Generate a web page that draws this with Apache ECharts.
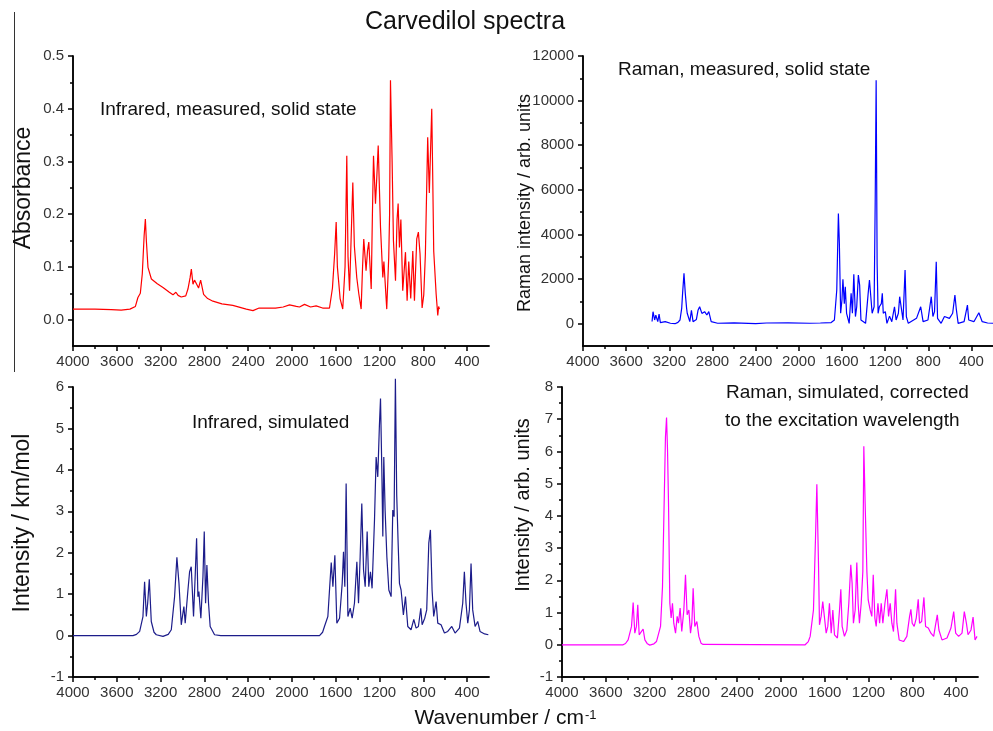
<!DOCTYPE html>
<html>
<head>
<meta charset="utf-8">
<title>Carvedilol spectra</title>
<script src="https://cdn.jsdelivr.net/npm/echarts@6/dist/echarts.min.js"></script>
<style>
  html, body { margin: 0; padding: 0; background: #fff; }
  #chart { width: 993px; height: 731px; }
</style>
</head>
<body>
<div id="chart"></div>
<script>
// tick values (wavenumber axis runs 4000 -> 200)
var xMajor = [400, 800, 1200, 1600, 2000, 2400, 2800, 3200, 3600, 4000];
var xMinor = [600, 1000, 1400, 1800, 2200, 2600, 3000, 3400, 3800];
var y1Major = [0, 0.1, 0.2, 0.3, 0.4, 0.5];
var y1Minor = [0.05, 0.15, 0.25, 0.35, 0.45];
var y2Major = [0, 2000, 4000, 6000, 8000, 10000, 12000];
var y2Minor = [1000, 3000, 5000, 7000, 9000, 11000];
var y3Major = [-1, 0, 1, 2, 3, 4, 5, 6];
var y3Minor = [-0.5, 0.5, 1.5, 2.5, 3.5, 4.5, 5.5];
var y4Major = [-1, 0, 1, 2, 3, 4, 5, 6, 7, 8];
var y4Minor = [-0.5, 0.5, 1.5, 2.5, 3.5, 4.5, 5.5, 6.5, 7.5];

// infrared, measured, solid state [wavenumber, absorbance]
var irMeasured = [[4000,0.020],[3800,0.020],[3650,0.019],[3560,0.018],[3480,0.020],[3430,0.025],[3407,0.042],[3385,0.050],[3367,0.087],[3350,0.160],[3339,0.191],[3330,0.150],[3315,0.099],[3284,0.077],[3230,0.068],[3178,0.061],[3120,0.052],[3087,0.047],[3060,0.052],[3040,0.046],[3011,0.043],[2993,0.040],[2970,0.045],[2950,0.058],[2930,0.080],[2919,0.096],[2904,0.067],[2890,0.075],[2874,0.073],[2853,0.060],[2834,0.075],[2807,0.048],[2770,0.040],[2722,0.035],[2640,0.030],[2540,0.027],[2417,0.020],[2356,0.017],[2300,0.022],[2235,0.022],[2150,0.022],[2080,0.024],[2022,0.028],[1960,0.025],[1931,0.024],[1885,0.029],[1830,0.024],[1779,0.026],[1720,0.022],[1657,0.022],[1641,0.022],[1630,0.060],[1610,0.125],[1596,0.185],[1585,0.100],[1560,0.040],[1536,0.020],[1515,0.100],[1499,0.311],[1488,0.120],[1474,0.055],[1460,0.150],[1444,0.260],[1430,0.140],[1408,0.080],[1390,0.050],[1368,0.020],[1355,0.100],[1344,0.153],[1323,0.093],[1310,0.130],[1298,0.147],[1276,0.058],[1265,0.200],[1255,0.311],[1237,0.220],[1225,0.270],[1212,0.330],[1191,0.175],[1170,0.080],[1160,0.110],[1134,0.020],[1116,0.118],[1108,0.200],[1100,0.454],[1085,0.300],[1073,0.150],[1054,0.074],[1040,0.190],[1030,0.220],[1018,0.137],[1005,0.190],[988,0.055],[963,0.128],[948,0.036],[933,0.110],[915,0.040],[896,0.130],[881,0.036],[860,0.153],[845,0.166],[830,0.125],[811,0.022],[796,0.047],[781,0.125],[760,0.346],[745,0.240],[723,0.400],[714,0.270],[705,0.130],[683,0.049],[668,0.008],[660,0.025],[653,0.020]];

// raman, measured, solid state [wavenumber, intensity]
var ramanMeasured = [[3360,100],[3351,537],[3336,166],[3325,380],[3307,90],[3295,430],[3283,45],[3238,90],[3190,20],[3147,0],[3120,60],[3101,165],[3085,700],[3077,1360],[3064,2257],[3052,1360],[3040,700],[3034,466],[3010,90],[2995,600],[2980,90],[2949,190],[2934,600],[2919,760],[2898,460],[2873,540],[2852,390],[2834,540],[2812,90],[2752,20],[2600,40],[2400,0],[2300,30],[2100,40],[1900,20],[1800,30],[1700,50],[1670,165],[1648,1509],[1633,4943],[1624,3600],[1612,466],[1600,1060],[1591,1988],[1578,900],[1569,1660],[1557,466],[1533,15],[1515,1360],[1503,466],[1490,2212],[1475,320],[1463,760],[1448,2180],[1436,1730],[1424,165],[1381,15],[1357,1360],[1345,1960],[1332,2030],[1320,466],[1302,760],[1292,5390],[1283,10913],[1274,2700],[1265,466],[1253,760],[1235,900],[1226,1360],[1217,466],[1198,540],[1183,15],[1159,340],[1138,90],[1113,760],[1098,165],[1077,466],[1065,1210],[1049,1210],[1034,165],[1015,2405],[1003,320],[985,15],[909,240],[870,760],[848,90],[803,165],[772,1210],[757,320],[742,540],[726,2776],[714,240],[681,15],[650,320],[604,240],[574,466],[553,1285],[541,690],[523,15],[468,90],[437,835],[425,165],[377,90],[331,490],[300,90],[250,30],[200,20]];

// infrared, simulated [wavenumber, km/mol]
var irSimulated = [[4000,0],[3452,0],[3420,0.03],[3391,0.10],[3361,0.46],[3346,1.30],[3330,0.46],[3318,0.78],[3303,1.36],[3285,0.34],[3260,0.08],[3239,0.02],[3178,-0.02],[3130,0.03],[3102,0.14],[3072,0.94],[3051,1.89],[3032,1.26],[3011,0.26],[2996,0.54],[2987,0.70],[2975,0.30],[2950,1.10],[2935,1.54],[2920,1.66],[2899,0.46],[2883,1.50],[2871,2.35],[2859,0.94],[2850,1.06],[2832,0.42],[2813,1.42],[2801,2.51],[2789,0.78],[2777,1.70],[2762,0.78],[2747,0.22],[2707,0.02],[2650,0],[1748,0],[1720,0.08],[1703,0.22],[1672,0.46],[1657,1.10],[1641,1.76],[1626,1.18],[1608,1.94],[1590,0.30],[1565,0.42],[1541,1.26],[1529,2.02],[1517,1.18],[1505,3.67],[1489,0.46],[1468,0.66],[1450,0.42],[1429,0.78],[1407,1.78],[1392,0.78],[1377,1.90],[1362,3.19],[1346,1.58],[1331,1.18],[1313,2.51],[1298,1.18],[1283,1.54],[1268,1.14],[1246,2.79],[1231,4.31],[1216,3.83],[1201,5.08],[1191,5.72],[1179,3.99],[1170,2.39],[1161,4.31],[1149,3.03],[1133,1.90],[1115,1.10],[1094,0.94],[1079,3.03],[1067,2.87],[1055,6.20],[1043,3.39],[1030,2.23],[1018,1.26],[1003,1.10],[982,0.50],[963,0.94],[942,0.22],[912,0.14],[887,0.39],[866,0.18],[845,0.22],[823,0.66],[811,0.26],[787,0.42],[769,0.62],[750,2.23],[735,2.55],[720,1.10],[705,0.46],[683,0.82],[668,0.30],[638,0.26],[607,0.06],[577,0.10],[540,0.22],[510,0.06],[470,0.18],[440,0.78],[425,1.54],[410,0.78],[394,0.30],[379,0.62],[364,1.74],[349,0.62],[327,0.22],[303,0.34],[282,0.10],[240,0.04],[206,0.02]];

// raman, simulated [wavenumber, arb. units]
var ramanSimulated = [[4000,0],[3442,0],[3420,0.04],[3396,0.15],[3365,0.57],[3350,1.31],[3335,0.36],[3320,0.57],[3308,1.24],[3295,0.31],[3277,0.26],[3259,0.49],[3243,0.15],[3220,0.03],[3198,-0.01],[3160,0.03],[3137,0.10],[3100,0.57],[3082,1.80],[3067,4.39],[3055,6.45],[3045,7.05],[3036,6.04],[3027,4.39],[3015,1.29],[3003,0.83],[2991,1.29],[2979,0.67],[2963,0.36],[2948,0.88],[2936,0.67],[2921,1.14],[2906,0.41],[2887,1.08],[2872,2.17],[2857,0.93],[2841,1.08],[2826,0.36],[2814,0.67],[2802,1.75],[2787,0.57],[2768,0.72],[2750,0.26],[2730,0.05],[2711,0.01],[1779,0],[1750,0.10],[1733,0.26],[1703,1.08],[1684,3.35],[1672,4.98],[1657,2.51],[1648,0.62],[1633,0.88],[1618,1.34],[1602,1.29],[1587,0.36],[1572,0.57],[1557,1.29],[1541,0.36],[1526,1.08],[1511,0.31],[1484,0.21],[1465,1.08],[1453,1.72],[1441,0.57],[1420,0.26],[1398,0.46],[1380,1.29],[1362,2.48],[1350,1.91],[1338,0.67],[1322,1.08],[1307,2.55],[1295,1.29],[1283,0.67],[1267,1.29],[1252,2.27],[1243,6.16],[1231,4.39],[1215,2.27],[1203,1.39],[1185,1.08],[1170,0.88],[1157,2.17],[1142,0.83],[1130,0.57],[1114,1.29],[1099,0.67],[1084,1.29],[1069,0.67],[1050,1.29],[1032,1.72],[1017,0.88],[1002,1.29],[987,0.67],[972,0.41],[953,1.72],[941,0.67],[920,0.15],[880,0.10],[850,0.26],[825,0.88],[813,1.10],[801,0.67],[783,0.57],[764,0.83],[746,1.41],[734,0.67],[715,0.72],[694,1.47],[679,0.57],[654,0.52],[630,0.36],[605,0.26],[590,0.57],[572,0.93],[557,0.46],[529,0.15],[483,0.21],[447,0.52],[422,1.03],[404,0.36],[377,0.26],[346,0.36],[325,1.03],[306,0.67],[291,0.31],[264,0.46],[245,0.86],[227,0.15],[209,0.26]];

var FONT = 'Liberation Sans, Arial, sans-serif';
var lineSt = { color: '#000', width: 1.5 };

// main axis + overlay axis carrying the short minor ticks
function xAxes(g) {
  var base = { type: 'value', gridIndex: g, min: 200, max: 4000, inverse: true, position: 'bottom', splitLine: { show: false } };
  var main = Object.assign({}, base, {
    axisLine: { onZero: false, lineStyle: lineSt },
    axisTick: { customValues: xMajor, length: 5, lineStyle: lineSt },
    axisLabel: { customValues: xMajor, margin: 8, color: '#333', fontSize: 15, fontFamily: FONT, formatter: function (v) { return String(v); } }
  });
  var minor = Object.assign({}, base, {
    axisLine: { onZero: false, lineStyle: lineSt },
    axisTick: { customValues: xMinor, length: 3, lineStyle: lineSt },
    axisLabel: { show: false }
  });
  return [main, minor];
}
function yAxes(g, min, max, major, minorV, fmt) {
  var base = { type: 'value', gridIndex: g, min: min, max: max, position: 'left', splitLine: { show: false } };
  var main = Object.assign({}, base, {
    axisLine: { onZero: false, lineStyle: lineSt },
    axisTick: { customValues: major, length: 5, lineStyle: lineSt },
    axisLabel: { customValues: major, margin: 9, color: '#333', fontSize: 15, fontFamily: FONT, formatter: fmt }
  });
  var minor = Object.assign({}, base, {
    axisLine: { onZero: false, lineStyle: lineSt },
    axisTick: { customValues: minorV, length: 3, lineStyle: lineSt },
    axisLabel: { show: false }
  });
  return [main, minor];
}

function txt(x, y, s, size, align, rot) {
  return {
    type: 'text', x: x, y: y, rotation: rot || 0, silent: true,
    style: { text: s, fill: '#111', fontSize: size, fontFamily: FONT, align: align || 'left', verticalAlign: 'middle' }
  };
}

var myChart = echarts.init(document.getElementById('chart'));
var option = {
  animation: false,
  backgroundColor: '#fff',
  grid: [
    { left: 73, top: 56, width: 416, height: 290 },
    { left: 583, top: 56, width: 416, height: 290 },
    { left: 73, top: 387, width: 416, height: 290 },
    { left: 562, top: 387, width: 416, height: 290 }
  ],
  xAxis: [].concat(xAxes(0), xAxes(1), xAxes(2), xAxes(3)),
  yAxis: [].concat(
    yAxes(0, -0.05, 0.5, y1Major, y1Minor, function (v) { return v.toFixed(1); }),
    yAxes(1, -1000, 12000, y2Major, y2Minor, function (v) { return String(v); }),
    yAxes(2, -1, 6, y3Major, y3Minor, function (v) { return String(v); }),
    yAxes(3, -1, 8, y4Major, y4Minor, function (v) { return String(v); })
  ),
  series: [
    { type: 'line', xAxisIndex: 0, yAxisIndex: 0, data: irMeasured, showSymbol: false, lineStyle: { color: '#ff0000', width: 1.2 }, itemStyle: { color: '#ff0000' } },
    { type: 'line', xAxisIndex: 2, yAxisIndex: 2, data: ramanMeasured, showSymbol: false, lineStyle: { color: '#0000ff', width: 1.2 }, itemStyle: { color: '#0000ff' } },
    { type: 'line', xAxisIndex: 4, yAxisIndex: 4, data: irSimulated, showSymbol: false, clip: false, lineStyle: { color: '#1c1c8a', width: 1.2 }, itemStyle: { color: '#1c1c8a' } },
    { type: 'line', xAxisIndex: 6, yAxisIndex: 6, data: ramanSimulated, showSymbol: false, lineStyle: { color: '#ff00ff', width: 1.2 }, itemStyle: { color: '#ff00ff' } }
  ],
  graphic: [
    { type: 'line', silent: true, shape: { x1: 14.5, y1: 12, x2: 14.5, y2: 372 }, style: { stroke: '#333', lineWidth: 1 } },
    txt(465, 22, 'Carvedilol spectra', 25, 'center'),
    txt(24, 188, 'Absorbance', 23, 'center', Math.PI / 2),
    txt(525, 203, 'Raman intensity / arb. units', 18, 'center', Math.PI / 2),
    txt(23, 523, 'Intensity / km/mol', 23, 'center', Math.PI / 2),
    txt(523, 505, 'Intensity / arb. units', 20, 'center', Math.PI / 2),
    txt(100, 110, 'Infrared, measured, solid state', 19),
    txt(618, 70, 'Raman, measured, solid state', 19),
    txt(192, 423, 'Infrared, simulated', 19),
    txt(726, 393, 'Raman, simulated, corrected', 19),
    txt(725, 421, 'to the excitation wavelength', 19),
    txt(584, 718, 'Wavenumber / cm', 21, 'right'),
    { type: 'text', x: 585, y: 709, silent: true, style: { text: '-1', fill: '#111', fontSize: 13, fontFamily: FONT, align: 'left', verticalAlign: 'top' } }
  ]
};
myChart.setOption(option);
</script>
</body>
</html>
